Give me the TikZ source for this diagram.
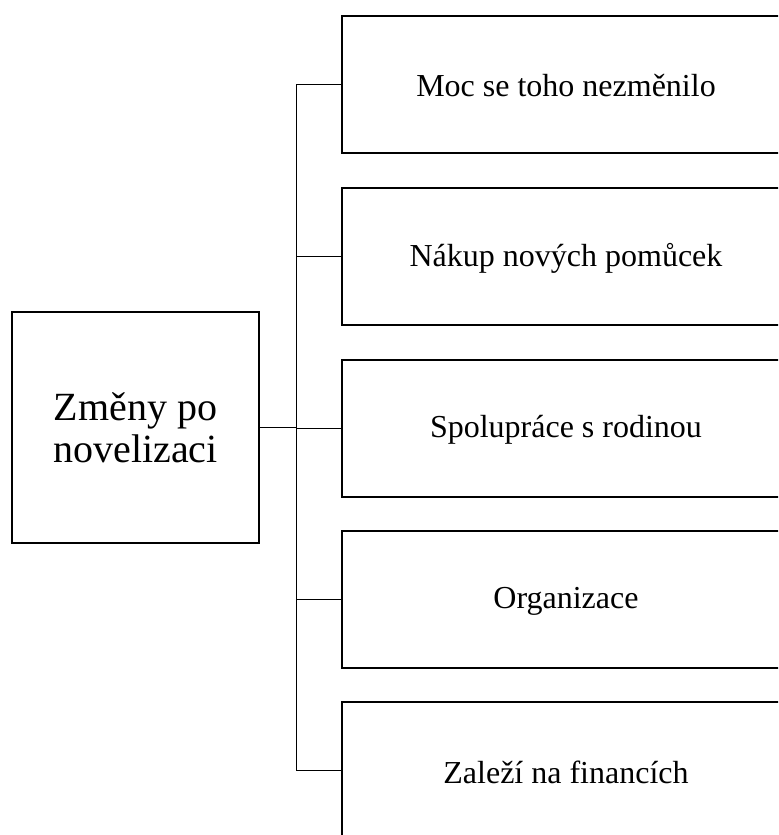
\documentclass[tikz,border=0pt]{standalone}
\usepackage{fontspec}
\setmainfont{Liberation Serif}
\begin{document}
\begin{tikzpicture}[x=0.75pt,y=-0.75pt,
  mainbox/.style={draw,line width=1.5pt,minimum width=247*0.75pt,minimum height=231*0.75pt,
    align=center,font=\fontsize{30}{31.5}\selectfont,inner sep=0pt},
  itembox/.style={draw,line width=1.5pt,minimum width=450*0.75pt,minimum height=137*0.75pt,
    inner sep=0pt},
  itemtext/.style={font=\fontsize{24}{28}\selectfont,inner sep=0pt},
  link/.style={line width=0.75pt}]
\useasboundingbox (0,0) rectangle (778,835);
\clip (0,0) rectangle (778,835);
\node[mainbox] (root) at (135.5,427.5) {Změny po\\novelizaci};
\node[itembox,anchor=west] (b1) at (341,84.5) {};
\node[itembox,anchor=west] (b2) at (341,256.5) {};
\node[itembox,anchor=west] (b3) at (341,428.5) {};
\node[itembox,anchor=west] (b4) at (341,599.5) {};
\node[itembox,anchor=west] (b5) at (341,770.5) {};
\node[itemtext] (t1) at (566,86) {Moc se toho nezměnilo};
\node[itemtext] (t2) at (566,258) {Nákup nových pomůcek};
\node[itemtext] (t3) at (566,430) {Spolupráce s rodinou};
\node[itemtext] (t4) at (566,601) {Organizace};
\node[itemtext] (t5) at (566,772) {Zaleží na financích};
\coordinate (spine) at (296,427.5);
\draw[link] (root.east) -- (spine);
\foreach \b in {b1,b2,b3,b4,b5}
  \draw[link] (\b.west) -- (spine |- \b.west) -- (spine);
\end{tikzpicture}
\end{document}
